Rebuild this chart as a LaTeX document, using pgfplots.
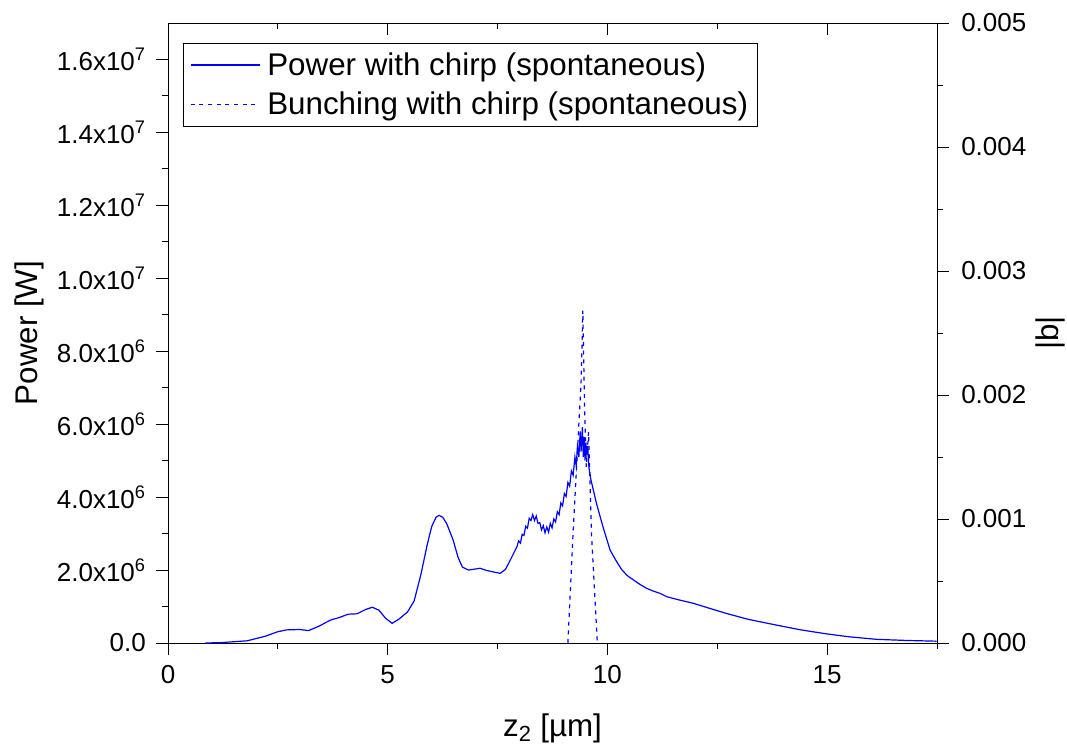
\documentclass[border=0pt]{standalone}
\usepackage{fontspec}
\setmainfont{Liberation Sans}
\usepackage{pgfplots}
\pgfplotsset{compat=1.18}
\pgfplotsset{
  common/.style={
    scale only axis, width=576.75pt, height=465pt,
    xmin=0, xmax=17.5, scaled ticks=false,
    major tick length=9pt, minor tick length=4.5pt,
    every tick/.style={black, line width=0.7pt},
    axis line style={black, line width=0.7pt, -},
    tick label style={font=\fontsize{19.5}{23}\selectfont},
  }
}
\begin{document}
\begin{tikzpicture}
\useasboundingbox (-126pt,-78pt) rectangle (674.25pt,482.25pt);
\begin{axis}[common,
  axis x line*=bottom, axis y line*=left, tick align=outside,
  ymin=0, ymax=17,
  xtick={0,5,10,15}, xticklabels={0,5,10,15},
  minor xtick={2.5,7.5,12.5,17.5},
  ytick={0,2,4,6,8,10,12,14,16},
  yticklabels={0.0,
    2.0x10\textsuperscript{6},4.0x10\textsuperscript{6},6.0x10\textsuperscript{6},8.0x10\textsuperscript{6},
    1.0x10\textsuperscript{7},1.2x10\textsuperscript{7},1.4x10\textsuperscript{7},1.6x10\textsuperscript{7}},
  minor ytick={1,3,5,7,9,11,13,15},
  yticklabel style={anchor=east, inner sep=0pt, xshift=-7.5pt},
  xticklabel style={anchor=north, inner sep=0pt, yshift=-7.5pt},
  xlabel={z\textsubscript{2} [µm]},
  ylabel={Power [W]},
  every axis x label/.style={at={(axis description cs:0.5,-0.151)}, anchor=base, font=\fontsize{23.5}{28}\selectfont},
  every axis y label/.style={at={(axis description cs:-0.16905,0.5)}, rotate=90, anchor=base, font=\fontsize{23.5}{28}\selectfont},
  legend style={at={(0.0195,0.968)}, anchor=north west, draw=black, line width=0.7pt,
    font=\fontsize{23.5}{28}\selectfont, row sep=7pt, inner xsep=5pt, inner ysep=5pt,
    cells={anchor=west}},
  legend image code/.code={\draw[#1] (0pt,0pt) -- (52pt,0pt); \path (55pt,0pt);},
]
\addplot[blue, line width=0.9pt] coordinates {
(0.85,0.00) (1.2,0.01) (1.8,0.06) (2.2,0.18) (2.5,0.31) (2.7,0.36) (3.0,0.37) (3.2,0.34)
(3.45,0.47) (3.7,0.63) (3.9,0.70) (4.1,0.79) (4.3,0.80) (4.5,0.92) (4.65,0.98) (4.8,0.90)
(4.95,0.68) (5.1,0.54) (5.25,0.65) (5.45,0.85) (5.6,1.15) (5.75,1.85) (5.9,2.70) (6.0,3.19)
(6.1,3.45) (6.17,3.50) (6.25,3.45) (6.34,3.28) (6.49,2.82) (6.6,2.35) (6.7,2.08) (6.84,2.00)
(7.0,2.03) (7.1,2.05) (7.25,1.99) (7.4,1.95) (7.56,1.91) (7.68,2.02) (7.75,2.18) (7.85,2.42)
(7.94,2.64) (7.98,2.80) (8.02,2.74) (8.06,2.98) (8.10,2.95) (8.14,3.20) (8.18,3.15) (8.22,3.42)
(8.26,3.36) (8.30,3.52) (8.34,3.36) (8.38,3.48) (8.42,3.28) (8.46,3.30) (8.50,3.10) (8.54,3.22)
(8.58,3.02) (8.62,3.18) (8.66,3.04) (8.70,3.28) (8.74,3.16) (8.78,3.40) (8.82,3.32) (8.86,3.60)
(8.90,3.52) (8.94,3.84) (8.98,3.76) (9.02,4.10) (9.06,4.02) (9.10,4.40) (9.14,4.30) (9.18,4.72)
(9.22,4.60) (9.26,5.10) (9.29,4.85) (9.32,5.45) (9.35,5.10) (9.38,5.80) (9.40,5.25) (9.43,5.92)
(9.45,5.10) (9.47,5.65) (9.49,5.00) (9.51,5.50) (9.53,5.15) (9.55,5.40) (9.58,4.80) (9.62,4.50)
(9.75,3.83) (9.9,3.18) (10.06,2.55) (10.2,2.25) (10.32,2.02) (10.45,1.85) (10.59,1.73) (10.75,1.60)
(10.89,1.50) (11.05,1.42) (11.2,1.36) (11.35,1.27) (11.6,1.19) (11.95,1.09) (12.3,0.96) (12.71,0.81)
(13.2,0.65) (13.85,0.49) (14.4,0.36) (14.99,0.25) (15.5,0.17) (16.13,0.10) (16.8,0.07) (17.49,0.05)
};
\addlegendentry{Power with chirp (spontaneous)}
\addlegendimage{blue, line width=0.9pt, dash pattern=on 3pt off 3.5pt}
\addlegendentry{Bunching with chirp (spontaneous)}
\end{axis}
\begin{axis}[common,
  axis y line*=right, axis x line=none, tick align=outside,
  ymin=0, ymax=0.005,
  ytick={0,0.001,0.002,0.003,0.004,0.005},
  yticklabels={0.000,0.001,0.002,0.003,0.004,0.005},
  minor ytick={0.0005,0.0015,0.0025,0.0035,0.0045},
  yticklabel style={anchor=west, inner sep=0pt, xshift=9pt},
  ylabel={|b|},
  every axis y label/.style={at={(axis description cs:1.1586,0.5)}, rotate=90, anchor=base, font=\fontsize{23.5}{28}\selectfont},
]
\addplot[blue, line width=0.9pt, dash pattern=on 3pt off 3.5pt] coordinates {
(9.10,0) (9.22,0.0009) (9.34,0.0017) (9.40,0.0021) (9.44,0.00268) (9.48,0.0019) (9.52,0.00142)
(9.57,0.00170) (9.64,0.00086) (9.77,0)
};
\end{axis}
\begin{axis}[common,
  axis x line*=top, axis y line=none, tick align=inside,
  ymin=0, ymax=1,
  xtick={0,5,10,15}, xticklabel=\empty,
  minor xtick={2.5,7.5,12.5},
]
\end{axis}
\end{tikzpicture}
\end{document}
